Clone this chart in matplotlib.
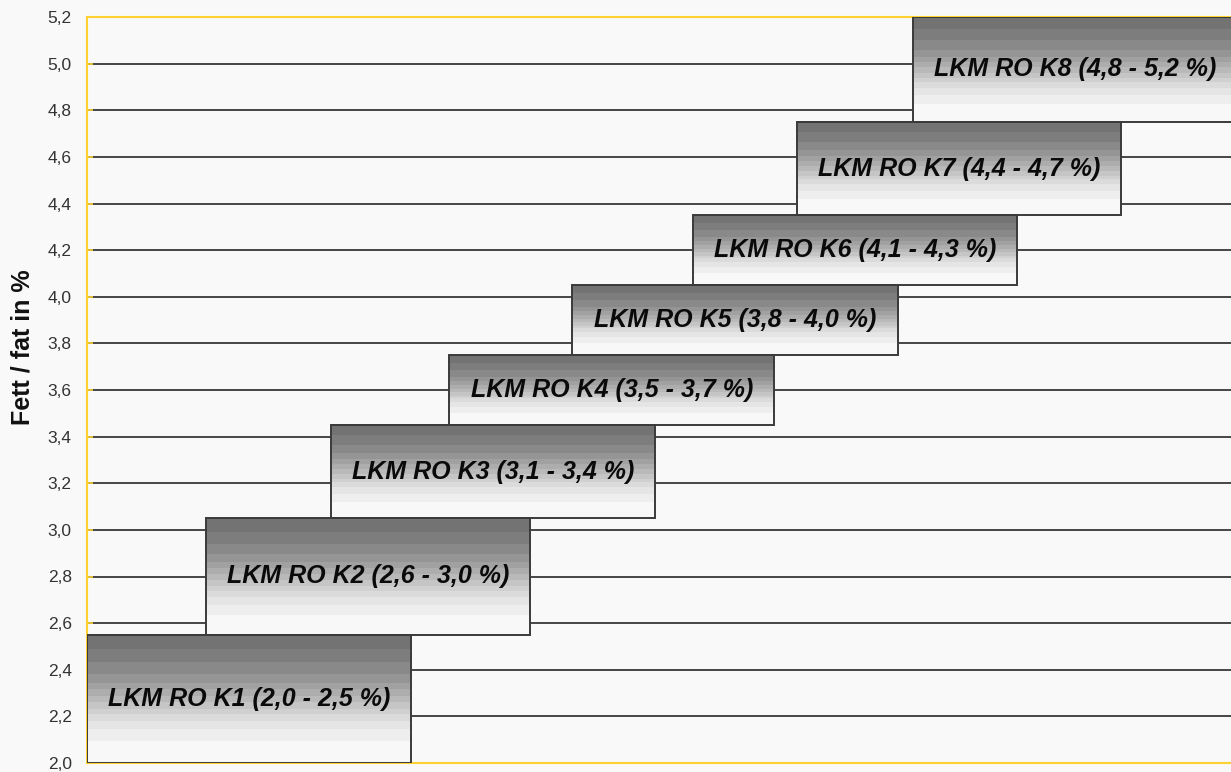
import matplotlib
matplotlib.use("Agg")
import matplotlib.pyplot as plt
import numpy as np
from matplotlib.patches import Rectangle

# ---- data ----
labels = ["LKM RO K1 (2,0 - 2,5 %)", "LKM RO K2 (2,6 - 3,0 %)", "LKM RO K3 (3,1 - 3,4 %)",
          "LKM RO K4 (3,5 - 3,7 %)", "LKM RO K5 (3,8 - 4,0 %)", "LKM RO K6 (4,1 - 4,3 %)",
          "LKM RO K7 (4,4 - 4,7 %)", "LKM RO K8 (4,8 - 5,2 %)"]
box_bottom = [2.00, 2.55, 3.05, 3.45, 3.75, 4.05, 4.35, 4.75]
box_top    = [2.55, 3.05, 3.45, 3.75, 4.05, 4.35, 4.75, 5.20]
x_start    = [0.0, 10.43, 21.33, 31.67, 42.37, 53.0, 62.06, 72.18]
x_width    = [28.3, 28.3, 28.3, 28.4, 28.5, 28.3, 28.3, 28.4]
y_ticks = [2.0, 2.2, 2.4, 2.6, 2.8, 3.0, 3.2, 3.4, 3.6, 3.8, 4.0, 4.2, 4.4, 4.6, 4.8, 5.0, 5.2]
y_ticklabels = ["2,0", "2,2", "2,4", "2,6", "2,8", "3,0", "3,2", "3,4", "3,6", "3,8",
                "4,0", "4,2", "4,4", "4,6", "4,8", "5,0", "5,2"]

plt.rcParams['font.family'] = ['Liberation Sans', 'DejaVu Sans']
bg = "#f9f9f9"
fig = plt.figure(figsize=(12.31, 7.72), dpi=100, facecolor=bg)
ax = fig.add_axes([87/1231, 1 - 763/772, 1 - 87/1231, (763 - 17)/772])
ax.set_facecolor(bg)

# stepped gradient style (dark top -> light bottom)
band_edges = [0, 0.117, 0.22, 0.31, 0.377, 0.43, 0.48, 0.53, 0.58, 0.62, 0.675, 0.74, 0.83, 1.0]
band_gray = [0x73, 0x7d, 0x89, 0x95, 0xa1, 0xad, 0xb9, 0xc5, 0xd0, 0xdb, 0xe5, 0xee, 0xf8]
rows = 400
tt = (np.arange(rows) + 0.5) / rows
idx = np.searchsorted(band_edges, tt, side='right') - 1
gray = np.array(band_gray)[np.clip(idx, 0, len(band_gray) - 1)] / 255.0
grad = np.repeat(gray[:, None, None], 3, axis=2)

for lab, b, tp, x0, w in zip(labels, box_bottom, box_top, x_start, x_width):
    ax.imshow(grad, extent=[x0, x0 + w, b, tp], aspect='auto', origin='upper',
              interpolation='nearest', zorder=3)
    ax.add_patch(Rectangle((x0, b), w, tp - b, fill=False, edgecolor="#3a3a3a",
                           linewidth=1.4, zorder=4))
    ax.text(x0 + w / 2, (b + tp) / 2, lab, ha='center', va='center',
            fontsize=18, fontweight='bold', fontstyle='italic', color='#0a0a0a', zorder=5)

ax.set_xlim(0, 100)
ax.set_ylim(2.0, 5.2)
ax.set_yticks(y_ticks)
ax.set_yticklabels(y_ticklabels)
ax.set_xticks([])
ax.yaxis.grid(True, color="#383838", linewidth=1.3, zorder=1)
ax.set_axisbelow(True)
ax.tick_params(axis='y', direction='in', length=4, color="#ffd232", width=1.2,
               pad=11, labelsize=12.5, labelcolor="#333333")
for s in ['left', 'top', 'bottom']:
    ax.spines[s].set_color("#ffd232")
    ax.spines[s].set_linewidth(1.5)
ax.spines['right'].set_visible(False)
ax.set_ylabel("Fett / fat in %", fontsize=18, fontweight='bold', color='#111111')
ax.yaxis.label.set_va('center')
ax.yaxis.set_label_coords(-0.0568, 0.558)

fig.savefig("out.png", dpi=100, facecolor=bg)
